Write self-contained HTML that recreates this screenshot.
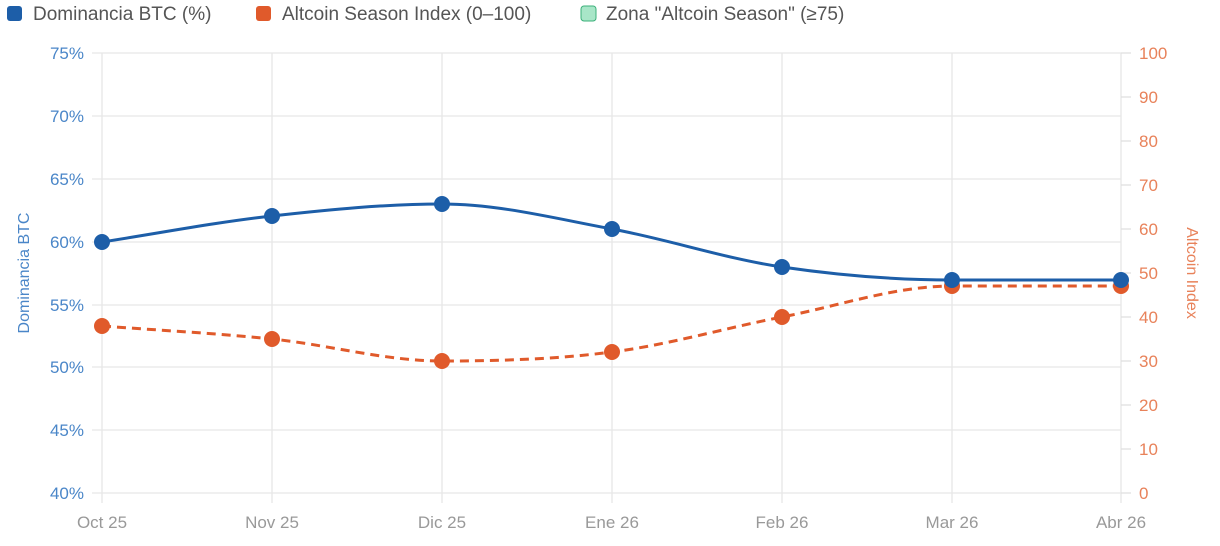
<!DOCTYPE html>
<html><head><meta charset="utf-8"><style>
body{margin:0;background:#fff;width:1220px;height:541px;overflow:hidden;font-family:"Liberation Sans",sans-serif}
</style></head><body>
<svg width="1220" height="541" xmlns="http://www.w3.org/2000/svg" font-family="Liberation Sans, sans-serif">
<rect x="7" y="6" width="15" height="15" rx="3" fill="#1d5ea8"/>
<text x="33" y="20" font-size="19" fill="#555">Dominancia BTC (%)</text>
<rect x="256" y="6" width="15" height="15" rx="3" fill="#e05a2b"/>
<text x="282" y="20" font-size="19" fill="#555">Altcoin Season Index (0–100)</text>
<rect x="581" y="6" width="15" height="15" rx="3" fill="#a8e6c8" stroke="#3bb07a" stroke-width="1"/>
<text x="606" y="20" font-size="19" fill="#555">Zona "Altcoin Season" (≥75)</text>
<g stroke="#e6e6e6" stroke-width="1.3">
<line x1="92" x2="1121" y1="53" y2="53"/><line x1="92" x2="1121" y1="116" y2="116"/>
<line x1="92" x2="1121" y1="179" y2="179"/><line x1="92" x2="1121" y1="242" y2="242"/>
<line x1="92" x2="1121" y1="305" y2="305"/><line x1="92" x2="1121" y1="367" y2="367"/>
<line x1="92" x2="1121" y1="430" y2="430"/><line x1="92" x2="1121" y1="493" y2="493"/>
<line x1="102" x2="102" y1="53" y2="503"/><line x1="272" x2="272" y1="53" y2="503"/>
<line x1="442" x2="442" y1="53" y2="503"/><line x1="612" x2="612" y1="53" y2="503"/>
<line x1="782" x2="782" y1="53" y2="503"/><line x1="952" x2="952" y1="53" y2="503"/>
<line x1="1121" x2="1121" y1="53" y2="503"/>
</g>
<g stroke="#e0e0e0" stroke-width="1.3">
<line x1="1121" x2="1131" y1="53" y2="53"/><line x1="1121" x2="1131" y1="97" y2="97"/>
<line x1="1121" x2="1131" y1="141" y2="141"/><line x1="1121" x2="1131" y1="185" y2="185"/>
<line x1="1121" x2="1131" y1="229" y2="229"/><line x1="1121" x2="1131" y1="273" y2="273"/>
<line x1="1121" x2="1131" y1="317" y2="317"/><line x1="1121" x2="1131" y1="361" y2="361"/>
<line x1="1121" x2="1131" y1="405" y2="405"/><line x1="1121" x2="1131" y1="449" y2="449"/>
<line x1="1121" x2="1131" y1="493" y2="493"/>
</g>
<g font-size="17" fill="#4a86c8" text-anchor="end">
<text x="84" y="59">75%</text><text x="84" y="122">70%</text><text x="84" y="185">65%</text>
<text x="84" y="248">60%</text><text x="84" y="311">55%</text><text x="84" y="373">50%</text>
<text x="84" y="436">45%</text><text x="84" y="499">40%</text>
</g>
<text transform="translate(29,273) rotate(-90)" font-size="16" fill="#4a86c8" text-anchor="middle">Dominancia BTC</text>
<g font-size="17" fill="#e8825a">
<text x="1139" y="59">100</text><text x="1139" y="103">90</text><text x="1139" y="147">80</text>
<text x="1139" y="191">70</text><text x="1139" y="235">60</text><text x="1139" y="279">50</text>
<text x="1139" y="323">40</text><text x="1139" y="367">30</text><text x="1139" y="411">20</text>
<text x="1139" y="455">10</text><text x="1139" y="499">0</text>
</g>
<text transform="translate(1187,273) rotate(90)" font-size="16" fill="#e8825a" text-anchor="middle">Altcoin Index</text>
<g font-size="17" fill="#999" text-anchor="middle">
<text x="102" y="528">Oct 25</text><text x="272" y="528">Nov 25</text><text x="442" y="528">Dic 25</text>
<text x="612" y="528">Ene 26</text><text x="782" y="528">Feb 26</text><text x="952" y="528">Mar 26</text>
<text x="1121" y="528">Abr 26</text>
</g>
<path d="M102,326 C158.7,330.3 215.3,333.2 272,339 C328.7,344.8 385.3,361 442,361 C498.7,361 555.3,359.3 612,352 C668.7,344.7 725.3,328 782,317 C838.7,306 895.3,286 952,286 L1121,286" fill="none" stroke="#e05a2b" stroke-width="3" stroke-dasharray="9,6"/>
<g fill="#e05a2b">
<circle cx="102" cy="326" r="8"/><circle cx="272" cy="339" r="8"/><circle cx="442" cy="361" r="8"/>
<circle cx="612" cy="352" r="8"/><circle cx="782" cy="317" r="8"/><circle cx="952" cy="286" r="8"/>
<circle cx="1121" cy="286" r="8"/>
</g>
<path d="M102,242 C158.7,233.3 215.3,222.3 272,216 C328.7,209.7 385.3,204 442,204 C498.7,204 555.3,218.5 612,229 C668.7,239.5 725.3,258.7 782,267 C838.7,275.3 895.3,280 952,280 L1121,280" fill="none" stroke="#1d5ea8" stroke-width="3"/>
<g fill="#1d5ea8">
<circle cx="102" cy="242" r="8"/><circle cx="272" cy="216" r="8"/><circle cx="442" cy="204" r="8"/>
<circle cx="612" cy="229" r="8"/><circle cx="782" cy="267" r="8"/><circle cx="952" cy="280" r="8"/>
<circle cx="1121" cy="280" r="8"/>
</g>
</svg>
</body></html>
